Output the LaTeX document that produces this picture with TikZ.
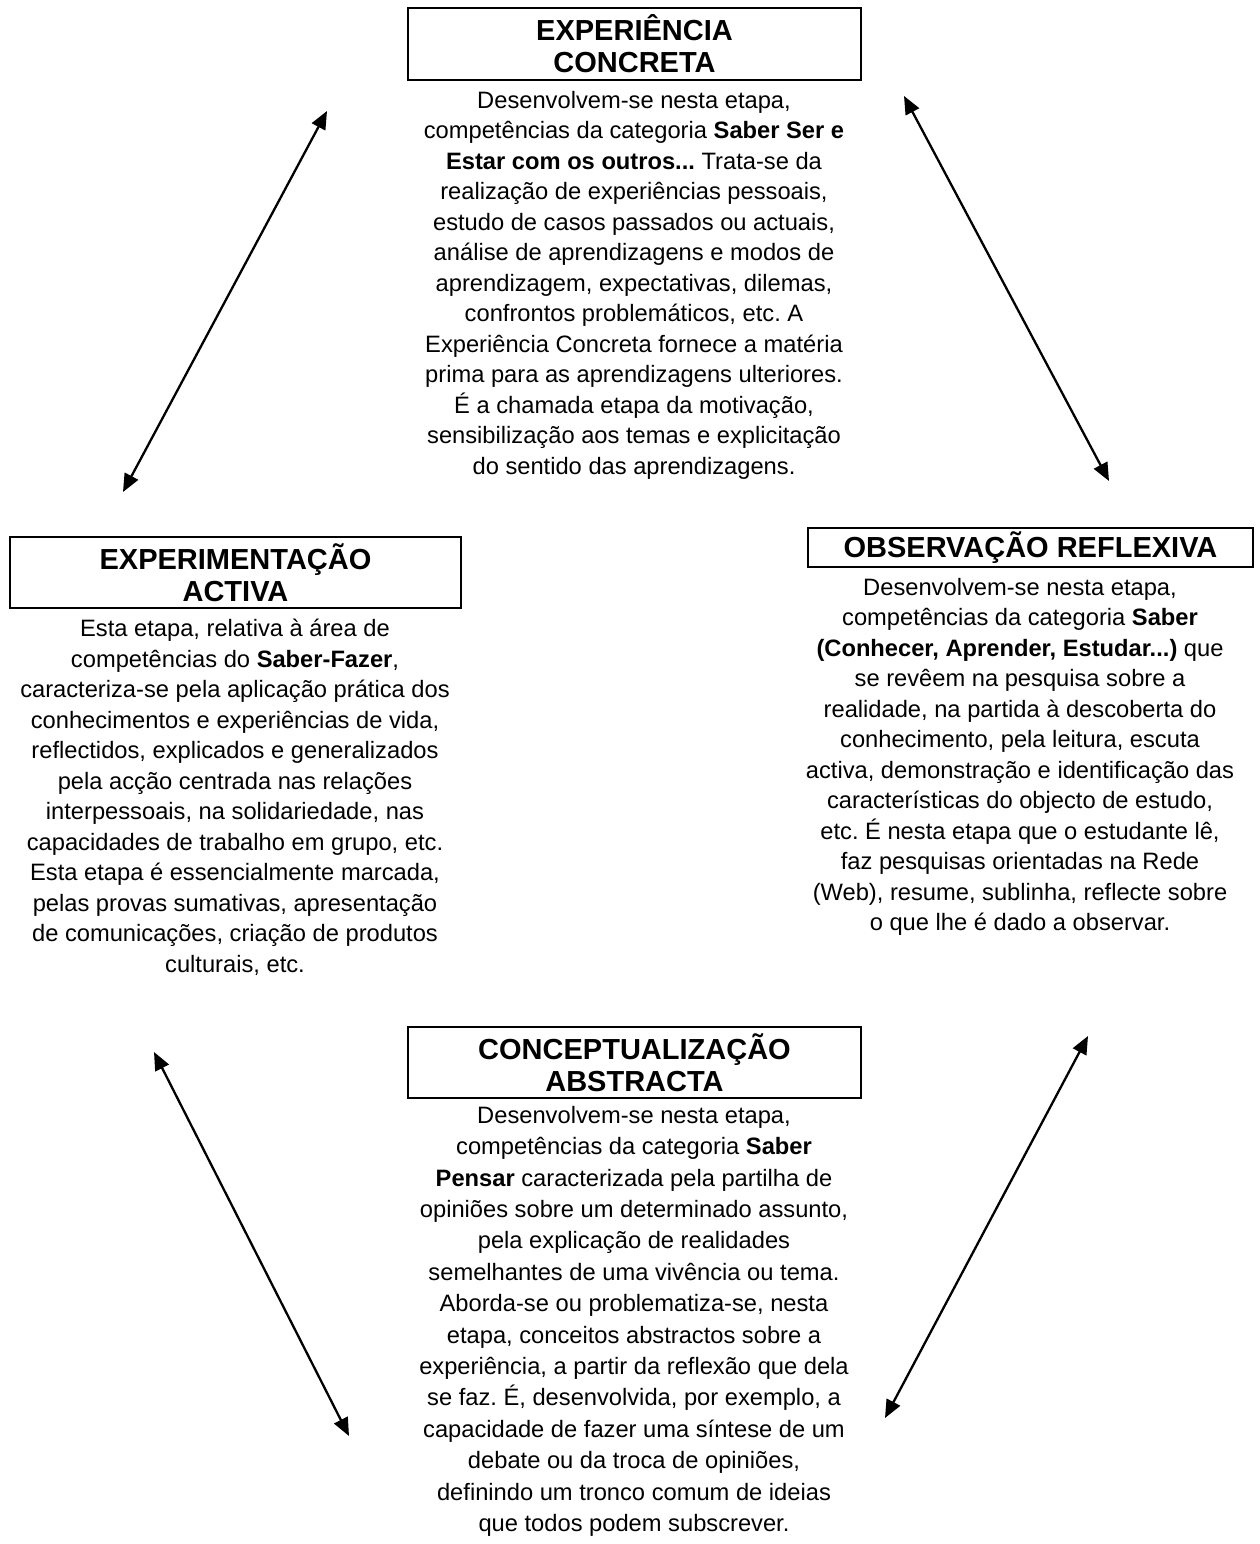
\documentclass[tikz,border=0pt]{standalone}
\usepackage{fontspec}
\setmainfont{Liberation Sans}
\usetikzlibrary{arrows.meta}
\frenchspacing
\begin{document}
\begin{tikzpicture}[x=1pt,y=-1pt,
  titlebox/.style={draw, line width=1.8pt, inner sep=0pt, align=center, font=\fontsize{29}{32}\selectfont\bfseries\frenchspacing},
  bodytext/.style={inner sep=0pt, anchor=north, align=center, font=\fontsize{23.7}{30.5}\selectfont\frenchspacing},
  cyc/.style={line width=2.3pt, {Triangle[length=18pt,width=15pt]}-{Triangle[length=18pt,width=15pt]}}]
\useasboundingbox[fill=white] (0,0) rectangle (1260,1544);

% Experiência Concreta
\node[titlebox, minimum width=453pt, minimum height=72pt] (tEC) at (634.5,44) {EXPERIÊNCIA\\CONCRETA};
\node[bodytext] (bEC) at (634,91) {Desenvolvem-se nesta etapa,\\
competências da categoria \textbf{Saber Ser e}\\
\textbf{Estar com os outros...} Trata-se da\\
realização de experiências pessoais,\\
estudo de casos passados ou actuais,\\
análise de aprendizagens e modos de\\
aprendizagem, expectativas, dilemas,\\
confrontos problemáticos, etc. A\\
Experiência Concreta fornece a matéria\\
prima para as aprendizagens ulteriores.\\
É a chamada etapa da motivação,\\
sensibilização aos temas e explicitação\\
do sentido das aprendizagens.};

% Experimentação Activa
\node[titlebox, minimum width=451pt, minimum height=71pt] (tEA) at (235.5,572.5) {EXPERIMENTAÇÃO\\ACTIVA};
\node[bodytext] (bEA) at (235,619) {Esta etapa, relativa à área de\\
competências do \textbf{Saber-Fazer},\\
caracteriza-se pela aplicação prática dos\\
conhecimentos e experiências de vida,\\
reflectidos, explicados e generalizados\\
pela acção centrada nas relações\\
interpessoais, na solidariedade, nas\\
capacidades de trabalho em grupo, etc.\\
Esta etapa é essencialmente marcada,\\
pelas provas sumativas, apresentação\\
de comunicações, criação de produtos\\
culturais, etc.};

% Observação Reflexiva
\node[titlebox, minimum width=445pt, minimum height=39pt] (tOR) at (1030.5,547.5) {OBSERVAÇÃO REFLEXIVA};
\node[bodytext] (bOR) at (1020,578) {Desenvolvem-se nesta etapa,\\
competências da categoria \textbf{Saber}\\
\textbf{(Conhecer, Aprender, Estudar...)} que\\
se revêem na pesquisa sobre a\\
realidade, na partida à descoberta do\\
conhecimento, pela leitura, escuta\\
activa, demonstração e identificação das\\
características do objecto de estudo,\\
etc. É nesta etapa que o estudante lê,\\
faz pesquisas orientadas na Rede\\
(Web), resume, sublinha, reflecte sobre\\
o que lhe é dado a observar.};

% Conceptualização Abstracta
\node[titlebox, minimum width=453pt, minimum height=71pt] (tCA) at (634.5,1062.5) {CONCEPTUALIZAÇÃO\\ABSTRACTA};
\node[bodytext, font=\fontsize{23.7}{31.4}\selectfont\frenchspacing] (bCA) at (634,1106) {Desenvolvem-se nesta etapa,\\
competências da categoria \textbf{Saber}\\
\textbf{Pensar} caracterizada pela partilha de\\
opiniões sobre um determinado assunto,\\
pela explicação de realidades\\
semelhantes de uma vivência ou tema.\\
Aborda-se ou problematiza-se, nesta\\
etapa, conceitos abstractos sobre a\\
experiência, a partir da reflexão que dela\\
se faz. É, desenvolvida, por exemplo, a\\
capacidade de fazer uma síntese de um\\
debate ou da troca de opiniões,\\
definindo um tronco comum de ideias\\
que todos podem subscrever.};

% arrow end points
\coordinate (a1s) at (123,492);
\coordinate (a1e) at (327,111);
\coordinate (a2s) at (904,96);
\coordinate (a2e) at (1109,481);
\coordinate (a3s) at (154,1052);
\coordinate (a3e) at (349,1436);
\coordinate (a4s) at (1088,1036);
\coordinate (a4e) at (885,1418);

\draw[cyc] (a1s) -- (a1e);
\draw[cyc] (a2s) -- (a2e);
\draw[cyc] (a3s) -- (a3e);
\draw[cyc] (a4s) -- (a4e);
\end{tikzpicture}
\end{document}
